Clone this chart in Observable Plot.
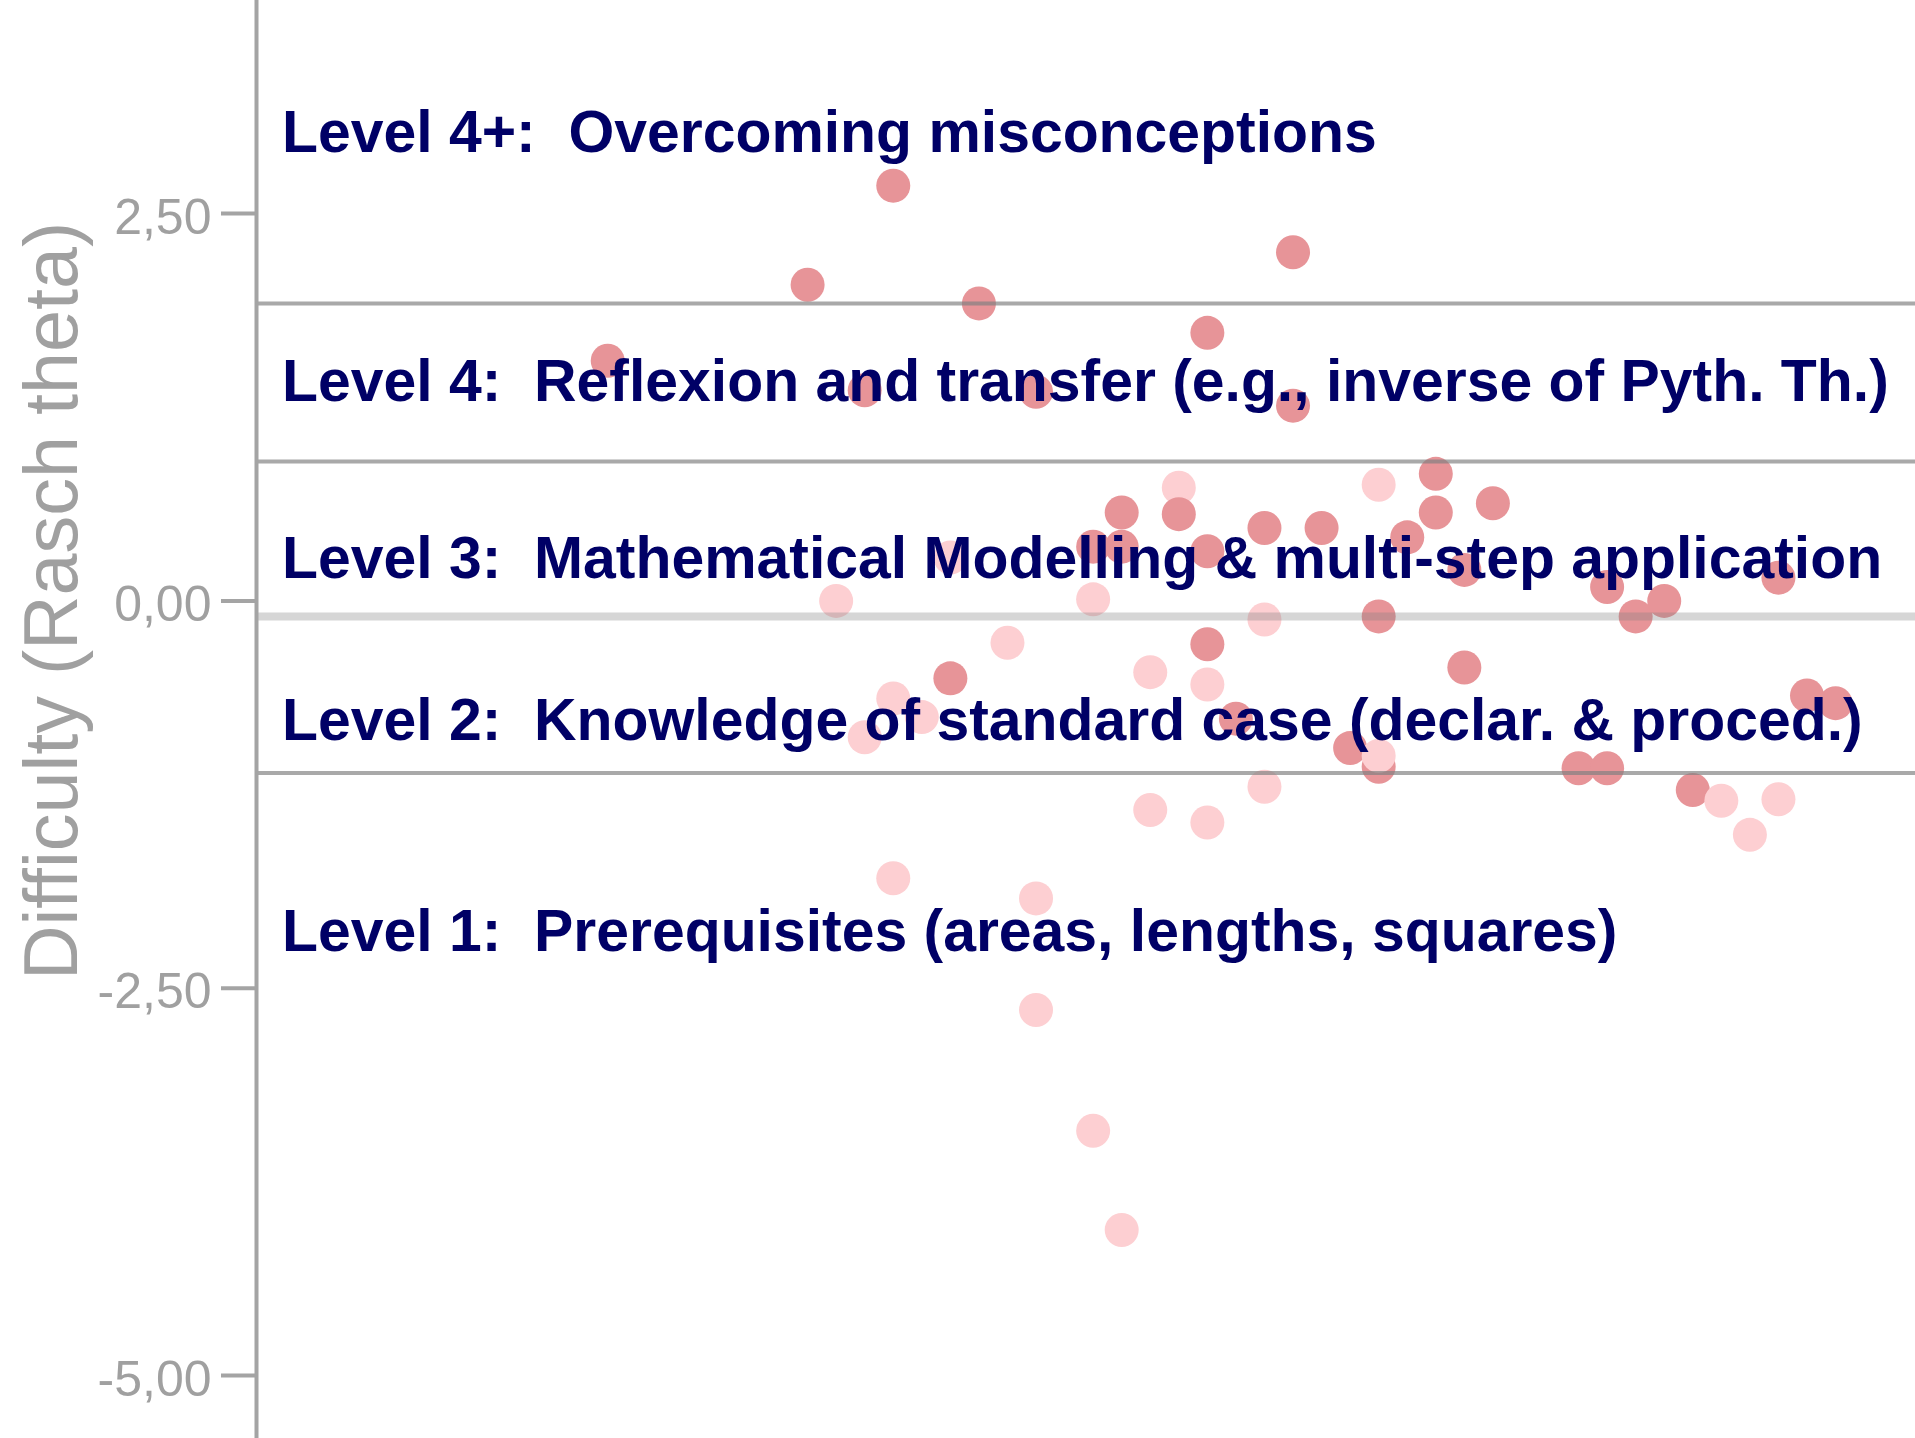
<!DOCTYPE html>
<html>
<head>
<meta charset="utf-8">
<script src="https://cdn.jsdelivr.net/npm/d3@7"></script>
<script src="https://cdn.jsdelivr.net/npm/@observablehq/plot@0.6"></script>
<style>
  html, body { margin: 0; padding: 0; background: #fff; overflow: hidden; }
</style>
</head>
<body>
<div id="chart"></div>
<script>
// Item positions along the horizontal spread, their Rasch difficulty and item set
const itemPos = [1, 8, 9, 10, 10, 11, 11, 11, 12, 13, 13, 14, 15, 16, 16, 16,
  18, 18, 18, 19, 19, 19, 20, 20, 21, 21, 22, 22, 22, 22, 22, 23, 24, 24, 24,
  25, 25, 26, 27, 28, 28, 28, 28, 29, 30, 30, 31, 31, 32, 35, 36, 36, 37, 38,
  39, 40, 41, 42, 42, 43, 44];
const difficulty = [1.55, 2.04, 0.00, 1.36, -0.88, 2.68, -0.63, -1.79, -0.75, 0.28, -0.50, 1.92, -0.27, 1.35, -1.92, -2.64,
  0.35, 0.01, -3.42, 0.57, 0.35, -4.06, -0.46, -1.35, 0.73, 0.56, 1.73, 0.32, -0.28, -0.54, -1.43, -0.76, 0.47, -0.12, -1.20,
  2.25, 1.26, 0.47, -0.95, 0.75, -0.10, -1.07, -1.00, 0.41, 0.82, 0.57, 0.20, -0.43, 0.63, -1.08, 0.09, -1.08, -0.10, 0.00,
  -1.22, -1.29, -1.51, 0.15, -1.28, -0.61, -0.66];
const itemSet = ["A", "A", "B", "A", "B", "A", "B", "B", "B", "B", "A", "A", "B", "A", "B", "B",
  "A", "B", "B", "A", "A", "B", "B", "B", "B", "A", "A", "A", "A", "B", "B", "A", "A", "B", "B",
  "A", "A", "A", "A", "B", "A", "A", "B", "A", "A", "A", "A", "A", "A", "A", "A", "A", "A", "A",
  "A", "B", "B", "A", "B", "A", "A"];

// Competence levels: label text and the difficulty at which each label sits
const levelLabels = [
  "Level 4+:\u00a0 Overcoming misconceptions",
  "Level 4:\u00a0 Reflexion and transfer (e.g., inverse of Pyth. Th.)",
  "Level 3:\u00a0 Mathematical Modelling & multi-step application",
  "Level 2:\u00a0 Knowledge of standard case (declar. & proced.)",
  "Level 1:\u00a0 Prerequisites (areas, lengths, squares)"
];
const levelLabelY = [2.90, 1.29, 0.15, -0.90, -2.26];

// Thresholds between levels, and the light reference line
const levelBounds = [1.92, 0.90, -1.11];
const referenceLine = [-0.10];

const yTicks = [2.5, 0, -2.5, -5];
const axisTitle = "Difficulty (Rasch theta)";

const items = itemPos.map((x, i) => ({x, v: difficulty[i], set: itemSet[i]}));
const levels = levelLabels.map((text, i) => ({text, y: levelLabelY[i]}));

const xDomain = [-11.3, 46.8];
const yDomain = [-5.406, 3.875];
const fmt = d => d.toFixed(2).replace(".", ",");

const chart = Plot.plot({
  width: 1915,
  height: 1438,
  marginLeft: 256,
  marginRight: 0,
  marginTop: 0,
  marginBottom: 0,
  style: {fontFamily: "'Liberation Sans', Arial, sans-serif", background: "#fff"},
  x: {domain: xDomain, axis: null},
  y: {domain: yDomain},
  color: {domain: ["A", "B"], range: ["#e79498", "#fdcfd2"]},
  marks: [
    Plot.dot(items, {x: "x", y: "v", r: 17, fill: "set"}),
    Plot.ruleY(referenceLine, {stroke: "#808080", strokeOpacity: 0.32, strokeWidth: 8}),
    Plot.ruleY(levelBounds, {stroke: "#808080", strokeOpacity: 0.68, strokeWidth: 4}),
    Plot.text(levels, {
      text: "text", y: "y", frameAnchor: "left", dx: 25.5,
      textAnchor: "start", lineAnchor: "bottom",
      fontSize: 58.9, fontWeight: "bold", fill: "#000066"
    }),
    Plot.ruleX([xDomain[0]], {stroke: "#a4a4a4", strokeWidth: 4}),
    Plot.axisY(yTicks, {tickSize: 35, fill: "none", stroke: "#a4a4a4", strokeWidth: 4, label: null}),
    Plot.axisY(yTicks, {
      tickSize: 0, tickPadding: 45, tickFormat: fmt,
      fill: "#a0a0a0", fontSize: 50, dy: 4, label: null
    }),
    Plot.text([axisTitle], {
      text: d => d, y: [0], frameAnchor: "left", dx: -179.5,
      rotate: -90, textAnchor: "middle", lineAnchor: "bottom",
      fontSize: 75.5, fill: "#a0a0a0"
    })
  ]
});

document.getElementById("chart").appendChild(chart);
</script>
</body>
</html>
